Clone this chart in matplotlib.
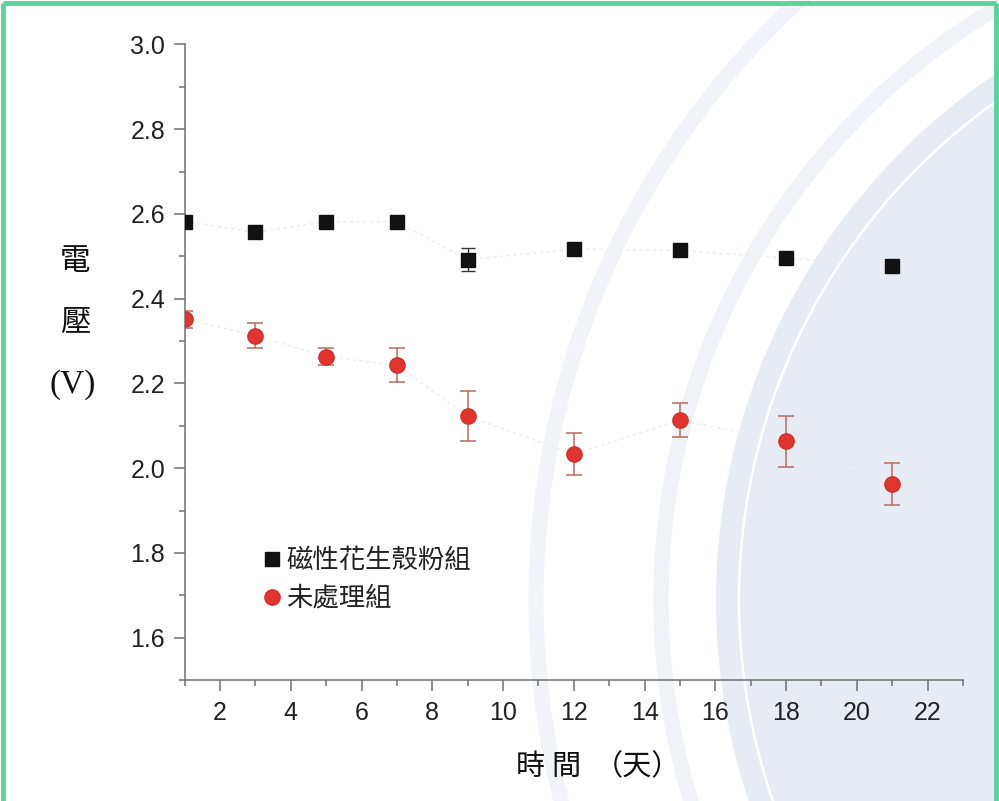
import matplotlib
matplotlib.use("Agg")
import matplotlib.pyplot as plt
from matplotlib.patches import Circle
from matplotlib.lines import Line2D
from matplotlib.ticker import MultipleLocator

# ---- data ----
days = [1, 3, 5, 7, 9, 12, 15, 18, 21]
magnetic = [2.582, 2.557, 2.582, 2.582, 2.492, 2.517, 2.514, 2.496, 2.478]
magnetic_err = [0.005, 0.005, 0.005, 0.005, 0.027, 0.005, 0.005, 0.005, 0.005]
untreated = [2.352, 2.313, 2.263, 2.243, 2.123, 2.033, 2.113, 2.063, 1.963]
untreated_err = [0.02, 0.03, 0.02, 0.04, 0.06, 0.05, 0.04, 0.06, 0.05]
legend_labels = ["磁性花生殼粉組", "未處理組"]
xticks = [2, 4, 6, 8, 10, 12, 14, 16, 18, 20, 22]
yticks = [1.6, 1.8, 2.0, 2.2, 2.4, 2.6, 2.8, 3.0]
ylabel_parts = ["電", "壓", "(V)"]
xlabel_parts = ["時", "間", "（天）"]

W, H = 999, 801
fig = plt.figure(figsize=(W / 100, H / 100), dpi=100)
CJK = ["Noto Sans CJK TC", "DejaVu Sans"]

# background decoration layer (pixel coordinates)
bg = fig.add_axes([0, 0, 1, 1], zorder=-1)
bg.set_xlim(0, W)
bg.set_ylim(H, 0)
bg.axis("off")
cx, cy = 1351, 600
bg.add_patch(Circle((cx, cy), 815, fill=False, ec="#f1f3f8", lw=11))
bg.add_patch(Circle((cx, cy), 690, fill=False, ec="#eff2f7", lw=11))
bg.add_patch(Circle((cx, cy), 635, fc="#e7ebf4", ec="none"))
bg.add_patch(Circle((cx, cy), 612, fill=False, ec="white", lw=1.8))
# green frame
gc = "#5dd39c"
bg.plot([3, 3], [H, 3], color=gc, lw=3.5, solid_capstyle="butt")
bg.plot([3, W - 3], [3, 3], color=gc, lw=3.5, solid_capstyle="butt")
bg.plot([W - 3, W - 3], [3, H], color=gc, lw=3.5, solid_capstyle="butt")

ax = fig.add_axes([184.6 / W, 1 - 680 / H, (963 - 184.6) / W, (680 - 44.5) / H])
ax.set_facecolor("none")

# faint trend lines
ax.plot(days, magnetic, color="#efefef", lw=1.2, ls=(0, (2, 2)), zorder=1)
ax.plot(days, untreated, color="#efefef", lw=1.2, ls=(0, (2, 2)), zorder=1)

ax.errorbar(days, magnetic, yerr=magnetic_err, fmt="s", color="#111111",
            ms=9.5, ecolor="#333333", elinewidth=1, capsize=5, capthick=1, zorder=3)
ax.errorbar(days, untreated, yerr=untreated_err, fmt="o", color="#e0342c",
            ms=11, mec="#d0302a", ecolor="#b86a60", elinewidth=1.1, capsize=6,
            capthick=1.1, zorder=3)

ax.set_xlim(1, 23)
ax.set_ylim(1.5, 3.0)
ax.set_xticks(xticks)
ax.set_yticks(yticks)
ax.xaxis.set_minor_locator(MultipleLocator(1))
ax.yaxis.set_minor_locator(MultipleLocator(0.1))
ax.set_xticklabels([str(t) for t in xticks])
ax.set_yticklabels([f"{t:.1f}" for t in yticks])

for s in ["top", "right"]:
    ax.spines[s].set_visible(False)
for s in ["left", "bottom"]:
    ax.spines[s].set_color("#707070")
    ax.spines[s].set_linewidth(1.1)
ax.tick_params(which="major", direction="out", length=8, width=1.1, color="#707070",
               labelsize=18, labelcolor="#222222")
ax.tick_params(axis="y", which="major", pad=6)
ax.tick_params(axis="x", which="major", pad=7)
ax.tick_params(which="minor", direction="out", length=4.3, width=1.1, color="#707070")
for lab in ax.get_xticklabels() + ax.get_yticklabels():
    lab.set_family("Liberation Sans")

handles = [
    Line2D([], [], ls="none", marker="s", ms=9.5, color="#111111"),
    Line2D([], [], ls="none", marker="o", ms=11, color="#e0342c", mec="#d0302a"),
]
leg = ax.legend(handles, legend_labels, loc="upper left",
                bbox_to_anchor=(0.082, 0.2255), frameon=False,
                prop={"family": CJK, "size": 19},
                handletextpad=0.08, labelspacing=0.4, handlelength=0.95,
                borderaxespad=0)
for t in leg.get_texts():
    t.set_color("#222222")

# y label stacked
ylab_pos = [(75, 262), (75, 322), (73, 385)]
for ch, (px, py) in zip(ylabel_parts, ylab_pos):
    fam = ["Liberation Serif"] if ch == "(V)" else CJK
    fig.text(px / W, 1 - py / H, ch, family=fam, fontsize=24 if ch == "(V)" else 22,
             ha="center", va="center", color="#111111")
# x label
xlab_pos = [530, 566, 637]
for ch, px in zip(xlabel_parts, xlab_pos):
    fig.text(px / W, 1 - 767 / H, ch, family=CJK, fontsize=21,
             ha="center", va="center", color="#111111")

fig.savefig("out.png", dpi=100)
